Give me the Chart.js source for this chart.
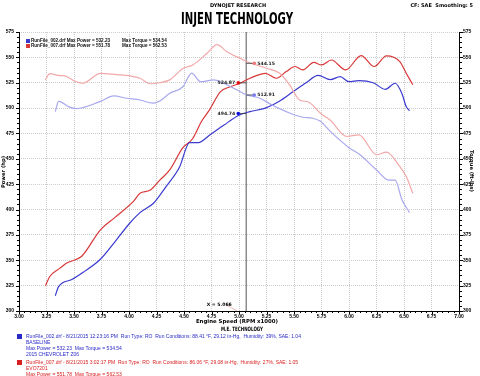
<!DOCTYPE html>
<html>
<head>
<meta charset="utf-8">
<script src="https://cdn.jsdelivr.net/npm/chart.js@4"></script>
<style>
  html, body { margin: 0; padding: 0; background: #fff; }
  canvas { display: block; }
</style>
</head>
<body>
<canvas id="dyno" width="480" height="376"></canvas>
<script>
// ─── DATA ────────────────────────────────────────────────────────

// RunFile_002 (baseline) power, hp
const rpmHp002 = [3.33, 3.36, 3.48, 3.58, 3.74, 3.87, 4.01, 4.10, 4.22, 4.28, 4.34, 4.46, 4.55, 4.63, 4.74, 4.86, 5.00, 5.10, 5.24, 5.37, 5.49, 5.61, 5.72, 5.83, 5.92, 6.00, 6.09, 6.22, 6.33, 6.42, 6.48, 6.52, 6.55];
const hp002    = [315, 324, 331, 338, 351, 368, 387, 397, 406, 414, 423, 442, 466, 466, 474, 483, 493, 496.5, 500, 507, 516, 525, 532.2, 528, 531, 526, 527, 525, 518.5, 524.5, 514.7, 501.5, 497.6];

// RunFile_007 (EVO7201) power, hp
const rpmHp007 = [3.24, 3.28, 3.37, 3.43, 3.57, 3.74, 3.87, 4.04, 4.10, 4.19, 4.28, 4.37, 4.49, 4.58, 4.66, 4.73, 4.83, 4.92, 5.01, 5.10, 5.24, 5.34, 5.43, 5.51, 5.58, 5.68, 5.75, 5.84, 5.97, 6.11, 6.23, 6.34, 6.46, 6.52, 6.58];
const hp007    = [325, 334, 342, 347, 354, 380, 392, 408, 416, 419, 429, 439, 461, 470, 487, 498, 516, 521, 524.5, 529.4, 534.3, 529.4, 536, 541, 537.6, 545, 542.5, 547.4, 537.6, 551.8, 541, 551.5, 546, 534.4, 523];

// RunFile_002 torque, ft-lbs
const rpmTq002 = [3.33, 3.36, 3.46, 3.52, 3.74, 3.86, 3.98, 4.10, 4.22, 4.28, 4.37, 4.49, 4.57, 4.65, 4.77, 4.86, 4.98, 5.07, 5.19, 5.30, 5.43, 5.58, 5.67, 5.74, 5.83, 6.00, 6.10, 6.25, 6.36, 6.42, 6.48, 6.55];
const tq002    = [496.5, 506.6, 501, 499.5, 506.6, 512, 509.7, 508, 504.8, 507, 514.6, 521, 534.5, 526, 527.8, 524.5, 518, 513, 509.7, 503, 496.5, 491, 490, 487, 477, 461, 454, 439, 429, 429, 410, 397];

// RunFile_007 torque, ft-lbs
const rpmTq007 = [3.24, 3.28, 3.37, 3.40, 3.52, 3.58, 3.74, 3.89, 4.01, 4.10, 4.19, 4.28, 4.37, 4.49, 4.58, 4.71, 4.80, 4.89, 5.01, 5.10, 5.25, 5.37, 5.46, 5.55, 5.63, 5.74, 5.83, 5.98, 6.09, 6.25, 6.34, 6.46, 6.52, 6.58];
const tq007    = [527.8, 534, 532, 532, 526, 524.5, 534.3, 533, 531.7, 529.4, 524, 525, 527.8, 539, 542.5, 554, 562.5, 555.6, 549, 544.5, 539.3, 534.3, 522.8, 508, 506, 495, 488, 472, 473.6, 454, 456.5, 442.6, 432.6, 416];

// cursor readout
const cursorRpm = 5.066;
const cursorHp  = [494.74, 524.87];   // 002, 007
const cursorTq  = [512.91, 544.15];   // 002, 007

const yTickMin = 300, yTickMax = 575, yTickStep = 25;
const xTickMin = 3.0, xTickMax = 7.0, xTickStep = 0.25;

const legendTop = [
  'RunFile_002.drf Max Power = 532.23',
  'RunFile_007.drf Max Power = 551.78',
];
const legendTopTq = ['Max Torque = 534.54', 'Max Torque = 562.53'];

const runNotes002 = [
  'RunFile_002.drf - 8/21/2015 12:23:16 PM  Run Type: RO  Run Conditions: 88.41 °F, 29.12 in-Hg,  Humidity: 39%, SAE: 1.04',
  'BASELINE',
  'Max Power = 532.23  Max Torque = 534.54',
  '2015 CHEVROLET Z06',
];
const runNotes007 = [
  'RunFile_007.drf - 8/21/2015 3:02:17 PM  Run Type: RO  Run Conditions: 86.06 °F, 29.08 in-Hg,  Humidity: 27%, SAE: 1.05',
  'EVO7201',
  'Max Power = 551.78  Max Torque = 562.53',
];

// ─── COLOURS ─────────────────────────────────────────────────────

const BLUE = '#3a3ad0';
const RED = '#d83838';
const BLUE_LT = '#a8a8ee';
const RED_LT = '#f2a8a8';

const pts = (xs, ys) => xs.map((x, i) => ({ x, y: ys[i] }));

function line(data, color, axis) {
  return {
    data, yAxisID: axis,
    borderColor: color, borderWidth: 1.2,
    pointRadius: 0, cubicInterpolationMode: 'monotone', fill: false,
  };
}

// ─── DECORATION PLUGIN ───────────────────────────────────────────

const dynoDecor = {
  id: 'dynoDecor',
  beforeDatasetsDraw(chart) {
    const { ctx, chartArea: a, scales } = chart;
    const cx = scales.x.getPixelForValue(cursorRpm);
    ctx.save();
    ctx.strokeStyle = '#8c8c8c';
    ctx.lineWidth = 1.5;
    ctx.beginPath();
    ctx.moveTo(cx, a.top);
    ctx.lineTo(cx, a.bottom);
    ctx.stroke();
    ctx.restore();
  },
  afterDatasetsDraw(chart) {
    const { ctx, chartArea: a, scales } = chart;
    const x = scales.x, y = scales.y;
    ctx.save();

    // axis lines + ruler ticks
    ctx.strokeStyle = '#000';
    ctx.lineWidth = 1;
    ctx.beginPath();
    ctx.moveTo(a.left + 0.5, a.top); ctx.lineTo(a.left + 0.5, a.bottom + 0.5);
    ctx.moveTo(a.right + 0.5, a.top); ctx.lineTo(a.right + 0.5, a.bottom + 0.5);
    ctx.moveTo(a.left, a.bottom + 0.5); ctx.lineTo(a.right + 1, a.bottom + 0.5);
    for (let v = yTickMin; v <= yTickMax; v += 5) {
      const py = Math.round(y.getPixelForValue(v)) + 0.5;
      const len = v % 25 === 0 ? 3 : 2;
      ctx.moveTo(a.left - len, py); ctx.lineTo(a.left, py);
      ctx.moveTo(a.right + 1, py); ctx.lineTo(a.right + 1 + len, py);
    }
    for (let i = 0; i <= 80; i++) {
      const px = Math.round(x.getPixelForValue(xTickMin + i * 0.05)) + 0.5;
      const len = i % 5 === 0 ? 3 : 2;
      ctx.moveTo(px, a.bottom); ctx.lineTo(px, a.bottom + len);
    }
    ctx.stroke();

    // cursor readouts
    const cx = x.getPixelForValue(cursorRpm);
    ctx.font = 'bold 4.6px "DejaVu Sans"';
    ctx.textBaseline = 'middle';
    const marks = [
      { v: cursorHp[0], c: '#1010e0', side: -1 },
      { v: cursorHp[1], c: '#e01010', side: -1 },
      { v: cursorTq[0], c: '#7878f0', side: 1 },
      { v: cursorTq[1], c: '#f07878', side: 1 },
    ];
    marks.forEach(m => {
      const py = y.getPixelForValue(m.v);
      const dx = cx + m.side * 8;
      ctx.strokeStyle = '#333';
      ctx.lineWidth = 0.8;
      ctx.beginPath(); ctx.moveTo(cx, py); ctx.lineTo(dx, py); ctx.stroke();
      ctx.fillStyle = m.c;
      ctx.beginPath(); ctx.arc(dx, py, 1.8, 0, Math.PI * 2); ctx.fill();
      ctx.fillStyle = '#222';
      ctx.textAlign = m.side < 0 ? 'right' : 'left';
      ctx.fillText(m.v.toFixed(2), dx + m.side * 3, py);
    });

    // X = readout
    ctx.strokeStyle = '#e8a0a0';
    ctx.lineWidth = 0.7;
    ctx.beginPath(); ctx.moveTo(cx - 20, a.bottom - 6); ctx.lineTo(cx - 9, a.bottom); ctx.stroke();
    ctx.fillStyle = '#000';
    ctx.textAlign = 'center';
    ctx.fillText('X = ' + cursorRpm.toFixed(3), cx - 27, a.bottom - 6);

    // in-plot legend
    const swatch = [BLUE, RED];
    ctx.font = 'bold 4.6px "Liberation Sans"';
    legendTop.forEach((t, i) => {
      const ly = a.top + 9 + i * 5;
      ctx.fillStyle = swatch[i];
      ctx.fillRect(a.left + 7, ly - 2, 4, 4);
      ctx.fillStyle = '#111';
      ctx.textAlign = 'left';
      ctx.fillText(t, a.left + 12, ly, 83);
      ctx.fillText(legendTopTq[i], a.left + 103, ly);
    });
    ctx.restore();
  },
  afterDraw(chart) {
    const { ctx, chartArea: a } = chart;
    const mid = (a.left + a.right) / 2;
    ctx.save();
    ctx.fillStyle = '#000';
    ctx.textBaseline = 'middle';

    ctx.textAlign = 'center';
    ctx.font = 'bold 5px "DejaVu Sans"';
    ctx.fillText('DYNOJET RESEARCH', 238, 6);
    ctx.textAlign = 'right';
    ctx.fillText('CF: SAE  Smoothing: 5', 473, 5.5);

    ctx.textAlign = 'center';
    ctx.font = 'bold 15px "DejaVu Sans"';
    ctx.fillText('INJEN TECHNOLOGY', 237, 20, 112);

    ctx.font = 'bold 5.4px "DejaVu Sans"';
    ctx.fillText('Engine Speed (RPM x1000)', mid - 2, a.bottom + 10.5);
    ctx.font = 'bold 6px "DejaVu Sans"';
    ctx.fillText('M.E. TECHNOLOGY', mid + 3, a.bottom + 18, 42);

    // axis titles
    ctx.font = 'bold 5.2px "DejaVu Sans"';
    ctx.save();
    ctx.translate(4, 172);
    ctx.rotate(-Math.PI / 2);
    ctx.fillText('Power (hp)', 0, 0);
    ctx.restore();
    ctx.save();
    ctx.translate(471, 171);
    ctx.rotate(Math.PI / 2);
    ctx.fillText('Torque (ft-lbs)', 0, 0);
    ctx.restore();

    // run notes
    ctx.textAlign = 'left';
    ctx.font = '5px "Liberation Sans"';
    const block = (lines, color, y0) => {
      ctx.fillStyle = color;
      ctx.fillRect(17, y0 - 2.5, 5, 5);
      lines.forEach((t, i) => {
        ctx.fillStyle = color;
        ctx.fillText(t, 26, y0 + i * 6.2);
      });
    };
    block(runNotes002, '#2a2ac8', 336.5);
    block(runNotes007, '#d82020', 362.5);
    ctx.restore();
  },
};

// ─── CHART ───────────────────────────────────────────────────────

const tickFont = { family: '"Liberation Sans"', size: 5, weight: 'bold' };
const gridGray = '#cdcdcd';

new Chart(document.getElementById('dyno'), {
  type: 'line',
  data: {
    datasets: [
      line(pts(rpmTq002, tq002), BLUE_LT, 'y2'),
      line(pts(rpmTq007, tq007), RED_LT, 'y2'),
      line(pts(rpmHp002, hp002), BLUE, 'y'),
      line(pts(rpmHp007, hp007), RED, 'y'),
    ],
  },
  options: {
    responsive: false,
    animation: false,
    devicePixelRatio: 1,
    layout: { padding: { top: 32, left: 0, right: 0, bottom: 0 } },
    plugins: { legend: { display: false }, tooltip: { enabled: false } },
    scales: {
      x: {
        type: 'linear', min: xTickMin, max: xTickMax,
        afterFit: s => { s.height = 65; },
        ticks: {
          stepSize: xTickStep, autoSkip: false, maxRotation: 0, padding: 3,
          color: '#000', font: tickFont, callback: v => v.toFixed(2),
        },
        grid: { color: gridGray, lineWidth: 1, drawTicks: false },
        border: { display: false, dash: [1, 1] },
      },
      y: {
        position: 'left', min: yTickMin, max: yTickMax,
        afterFit: s => { s.width = 19; },
        ticks: { stepSize: yTickStep, padding: 5, color: '#000', font: tickFont },
        grid: { color: gridGray, lineWidth: 1, drawTicks: false },
        border: { display: false, dash: [1, 1] },
      },
      y2: {
        position: 'right', min: yTickMin, max: yTickMax,
        afterFit: s => { s.width = 21; },
        ticks: { stepSize: yTickStep, padding: 4, color: '#000', font: tickFont },
        grid: { display: false, drawTicks: false },
        border: { display: false },
      },
    },
  },
  plugins: [dynoDecor],
});
</script>
</body>
</html>
